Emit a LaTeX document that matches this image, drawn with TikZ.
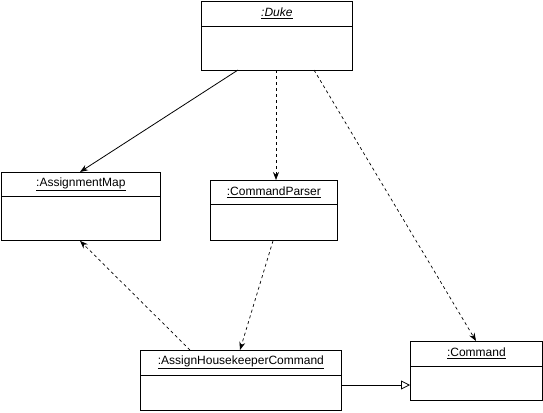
\documentclass[tikz,border=0pt]{standalone}
\usepackage{fontspec}
\setmainfont{Liberation Sans}
\usetikzlibrary{arrows.meta}
\begin{document}
\begin{tikzpicture}[x=1pt,y=-1pt,
  umlbox/.style={draw,line width=0.8pt,inner sep=0pt,anchor=north west},
  title/.style={font=\fontsize{12}{14}\selectfont,inner sep=0pt},
  dep/.style={dashed,dash pattern=on 3pt off 3pt,line width=0.7pt,-{Stealth[length=8pt,width=6pt]}},
  assoc/.style={line width=0.8pt,-{Stealth[length=8pt,width=6pt]}},
  gen/.style={line width=0.8pt,-{Triangle[open,length=9pt,width=9pt]}}]
\useasboundingbox (0,0) rectangle (543,412);
% boxes
\node[umlbox,minimum width=151pt,minimum height=69pt] (duke) at (201,1) {};
\node[umlbox,minimum width=159pt,minimum height=68pt] (amap) at (1,172) {};
\node[umlbox,minimum width=127pt,minimum height=60pt] (cparser) at (210,180) {};
\node[umlbox,minimum width=201pt,minimum height=60pt] (ahc) at (140,350) {};
\node[umlbox,minimum width=132pt,minimum height=59pt] (cmd) at (410,341) {};
% dividers
\draw[line width=0.8pt] (duke.north west |- 0,26) -- (duke.north east |- 0,26);
\draw[line width=0.8pt] (amap.north west |- 0,196) -- (amap.north east |- 0,196);
\draw[line width=0.8pt] (cparser.north west |- 0,204) -- (cparser.north east |- 0,204);
\draw[line width=0.8pt] (ahc.north west |- 0,375) -- (ahc.north east |- 0,375);
\draw[line width=0.8pt] (cmd.north west |- 0,366) -- (cmd.north east |- 0,366);
% titles
\node[title] (tduke) at (duke.north |- 0,13.5) {\underline{\itshape :Duke}};
\node[title] (tamap) at (amap.north |- 0,184) {\underline{:AssignmentMap}};
\node[title] (tcp) at (cparser.north |- 0,192) {\underline{:CommandParser}};
\node[title] (tahc) at (ahc.north |- 0,362.5) {\underline{:AssignHousekeeperCommand}};
\node[title] (tcmd) at (cmd.north |- 0,353.5) {\underline{:Command}};
% connectors
\coordinate (d1) at (238,70);
\coordinate (d2) at (276,70);
\coordinate (d3) at (314,70);
\draw[assoc] (d1) -- (amap.north -| 80,0);
\draw[dep] (d2) -- (cparser.north -| 276,0);
\draw[dep] (d3) -- (cmd.north -| 476,0);
\draw[dep] (cparser.south -| 273,0) -- (ahc.north -| 240,0);
\draw[dep] (ahc.north -| 190,0) -- (amap.south -| 80,0);
\draw[gen] (ahc.east |- 0,385) -- (cmd.west |- 0,385);
\end{tikzpicture}
\end{document}
